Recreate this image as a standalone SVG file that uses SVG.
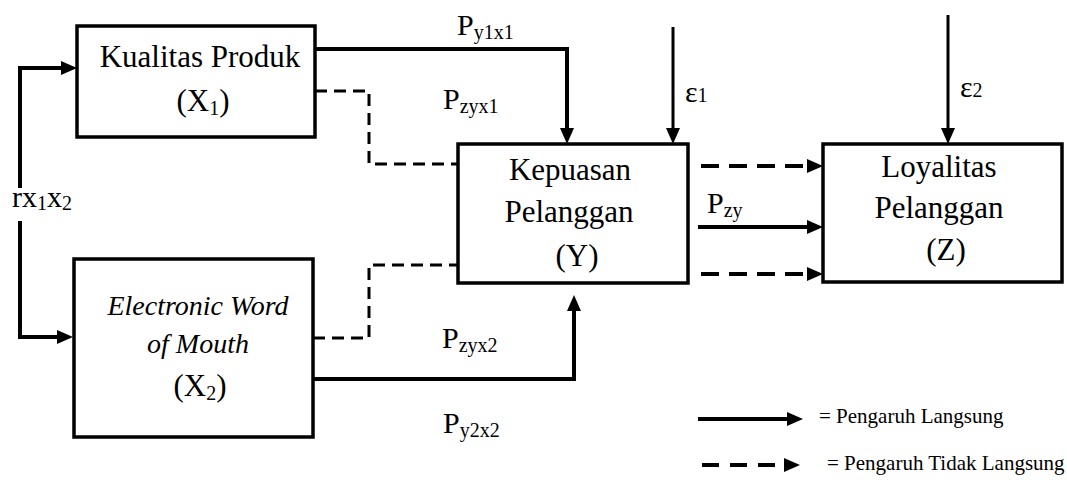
<svg xmlns="http://www.w3.org/2000/svg" width="1067" height="480" viewBox="0 0 1067 480">
  <style>
    .box { fill: #ffffff; stroke: #000000; stroke-width: 3.5; }
    .lbl { font-family: 'Liberation Serif', 'DejaVu Serif', serif; fill: #000000; }
    .node { font-size: 31px; text-anchor: middle; }
    .it { font-style: italic; font-size: 28px; }
    .p { font-size: 30px; }
    .sub { font-size: 20px; }
    .leg { font-size: 21px; }
    .solid { fill: none; stroke: #000000; stroke-width: 4; }
    .thin { fill: none; stroke: #000000; stroke-width: 3; }
    .dash { fill: none; stroke: #000000; stroke-width: 3; stroke-dasharray: 12 7; }
    .dashw { fill: none; stroke: #000000; stroke-width: 4; stroke-dasharray: 18 10; }
  </style>
  <defs>
    <marker id="ah" viewBox="0 0 16 14" refX="2" refY="7" markerWidth="16" markerHeight="14" markerUnits="userSpaceOnUse" orient="auto">
      <path d="M0,0 L16,7 L0,14 z" fill="#000000"/>
    </marker>
  </defs>

  <rect width="1067" height="480" fill="#ffffff"/>

  <!-- connectors -->
  <g id="connectors">
    <!-- correlation between X1 and X2 -->
    <path class="solid" d="M20,188 V68 H63" marker-end="url(#ah)"/>
    <path class="solid" d="M20,221 V337 H59" marker-end="url(#ah)"/>
    <!-- direct effects -->
    <path class="solid" d="M315,49 H567 V130" marker-end="url(#ah)"/>
    <path class="solid" d="M313,379 H574 V309" marker-end="url(#ah)"/>
    <path class="solid" d="M698,227 H809" marker-end="url(#ah)"/>
    <!-- error terms -->
    <path class="thin" d="M673,27 V130" marker-end="url(#ah)"/>
    <path class="thin" d="M948,15 V130" marker-end="url(#ah)"/>
    <!-- indirect effects -->
    <path class="dash" d="M315,91 H369 V164 H458"/>
    <path class="dash" d="M313,338 H369 V265 H458"/>
    <path class="dashw" d="M701,166 H809" marker-end="url(#ah)"/>
    <path class="dashw" d="M701,274 H809" marker-end="url(#ah)"/>
  </g>

  <!-- path labels -->
  <g id="path-labels" class="lbl" font-family="Liberation Serif, DejaVu Serif, serif">
    <text class="p" x="457" y="35">P<tspan class="sub" dy="4">y1x1</tspan></text>
    <text class="p" x="443" y="109">P<tspan class="sub" dy="4">zyx1</tspan></text>
    <text class="p" x="707" y="213">P<tspan class="sub" dy="4">zy</tspan></text>
    <text class="p" x="442" y="348">P<tspan class="sub" dy="4">zyx2</tspan></text>
    <text class="p" x="443" y="433">P<tspan class="sub" dy="4">y2x2</tspan></text>
    <text x="12" y="207" font-size="30">r<tspan>x</tspan><tspan class="sub" dy="3">1</tspan><tspan dy="-3">x</tspan><tspan class="sub" dy="3">2</tspan></text>
    <text x="685" y="102" font-size="30">ε<tspan class="sub">1</tspan></text>
    <text x="960" y="97" font-size="30">ε<tspan class="sub">2</tspan></text>
  </g>

  <!-- X1 -->
  <g id="node-x1" font-family="Liberation Serif, DejaVu Serif, serif">
    <rect class="box" x="77" y="26" width="238" height="111"/>
    <text class="lbl node" x="200" y="67">Kualitas Produk</text>
    <text class="lbl node" x="203" y="111">(X<tspan class="sub" dy="4">1</tspan><tspan dy="-4">)</tspan></text>
  </g>

  <!-- X2 -->
  <g id="node-x2" font-family="Liberation Serif, DejaVu Serif, serif">
    <rect class="box" x="74" y="259" width="239" height="178"/>
    <text class="lbl node it" x="198" y="315">Electronic Word</text>
    <text class="lbl node it" x="198" y="353">of Mouth</text>
    <text class="lbl node" x="200" y="396">(X<tspan class="sub" dy="4">2</tspan><tspan dy="-4">)</tspan></text>
  </g>

  <!-- Y -->
  <g id="node-y" font-family="Liberation Serif, DejaVu Serif, serif">
    <rect class="box" x="458" y="144" width="230" height="139"/>
    <text class="lbl node" x="570" y="180">Kepuasan</text>
    <text class="lbl node" x="569" y="222">Pelanggan</text>
    <text class="lbl node" x="577" y="266">(Y)</text>
  </g>

  <!-- Z -->
  <g id="node-z" font-family="Liberation Serif, DejaVu Serif, serif">
    <rect class="box" x="823" y="144" width="239" height="138"/>
    <text class="lbl node" x="939" y="177">Loyalitas</text>
    <text class="lbl node" x="939" y="218">Pelanggan</text>
    <text class="lbl node" x="946" y="260">(Z)</text>
  </g>

  <!-- legend -->
  <g id="legend" font-family="Liberation Serif, DejaVu Serif, serif">
    <path class="solid" d="M698,419 H789" marker-end="url(#ah)"/>
    <path class="dashw" d="M702,465 H786" style="stroke-dasharray:17 11" marker-end="url(#ah)"/>
    <text class="lbl leg" x="819" y="423">= Pengaruh Langsung</text>
    <text class="lbl leg" x="827" y="470">= Pengaruh Tidak Langsung</text>
  </g>
</svg>
